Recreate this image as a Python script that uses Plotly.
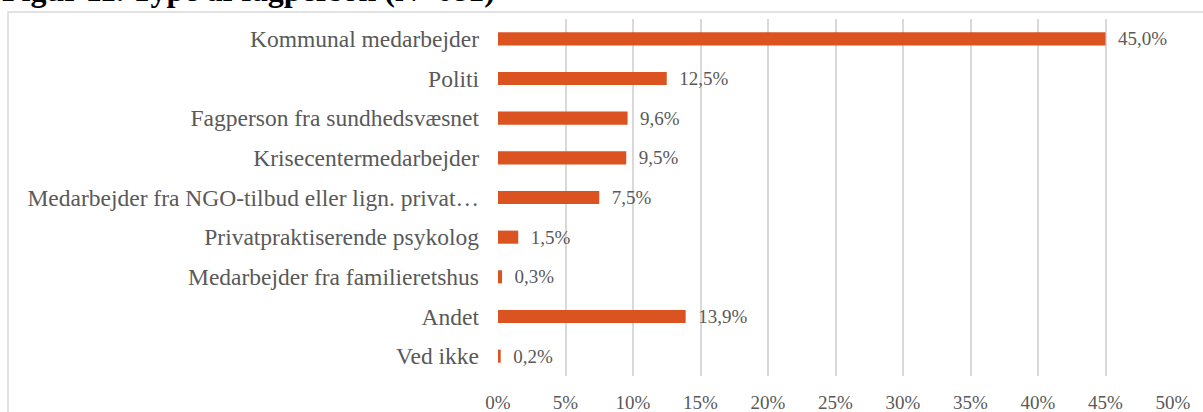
import plotly.graph_objects as go

categories = [
    "Kommunal medarbejder",
    "Politi",
    "Fagperson fra sundhedsvæsnet",
    "Krisecentermedarbejder",
    "Medarbejder fra NGO-tilbud eller lign. privat…",
    "Privatpraktiserende psykolog",
    "Medarbejder fra familieretshus",
    "Andet",
    "Ved ikke",
]
values = [45.0, 12.5, 9.6, 9.5, 7.5, 1.5, 0.3, 13.9, 0.2]
tick_vals = [0, 5, 10, 15, 20, 25, 30, 35, 40, 45, 50]
tick_text = [f"{v}%" for v in tick_vals]
labels = ["\u00a0\u00a0" + f"{v:.1f}%".replace(".", ",") for v in values]
title_text = "Figur 11. Type af fagperson (N=681)"

FONT = "Liberation Serif, Times New Roman, serif"
GRAY = "#595959"

fig = go.Figure(go.Bar(
    x=values, y=categories, orientation="h",
    marker=dict(color="#DA5321", line=dict(width=0)),
    text=labels, textposition="outside", cliponaxis=False,
    constraintext="none",
    textfont=dict(family=FONT, size=19, color=GRAY),
    width=0.33,
))

ML, MR, MT, MB = 498, 30, 19, 36
W, H = 1203, 412
pw = W - ML - MR
ph = H - MT - MB

fig.update_layout(
    width=W, height=H,
    margin=dict(l=ML, r=MR, t=MT, b=MB, pad=0, autoexpand=False),
    paper_bgcolor="white", plot_bgcolor="white",
    showlegend=False,
    font=dict(family=FONT, color=GRAY),
    xaxis=dict(range=[0, 50], tickvals=tick_vals, ticktext=tick_text,
               showgrid=True, gridcolor="#D9D9D9", gridwidth=1.5,
               zeroline=False, showline=False, automargin=False,
               tickfont=dict(family=FONT, size=19, color=GRAY),
               ticklabelstandoff=13, fixedrange=True),
    yaxis=dict(autorange="reversed", showgrid=False, zeroline=False,
               showline=False, automargin=False,
               tickfont=dict(family=FONT, size=23.5, color=GRAY),
               ticklabelstandoff=18),
    shapes=[dict(type="rect", xref="paper", yref="paper",
                 x0=(8 - ML) / pw, x1=(W + 20 - ML) / pw,
                 y0=(H - MB - (H + 20)) / ph, y1=(H - MB - 12) / ph,
                 line=dict(color="#D9D9D9", width=1.5), fillcolor="rgba(0,0,0,0)",
                 layer="below")],
    annotations=[dict(text=f"<b>{title_text}</b>", xref="paper", yref="paper",
                      x=(0 - ML) / pw, y=(H - MB - 10) / ph,
                      xanchor="left", yanchor="bottom", showarrow=False,
                      font=dict(family=FONT, size=32, color="black"))],
)

fig.write_html("out.html", config={"displayModeBar": False},
               post_script="document.body.style.margin='0';document.body.style.overflow='hidden';")
